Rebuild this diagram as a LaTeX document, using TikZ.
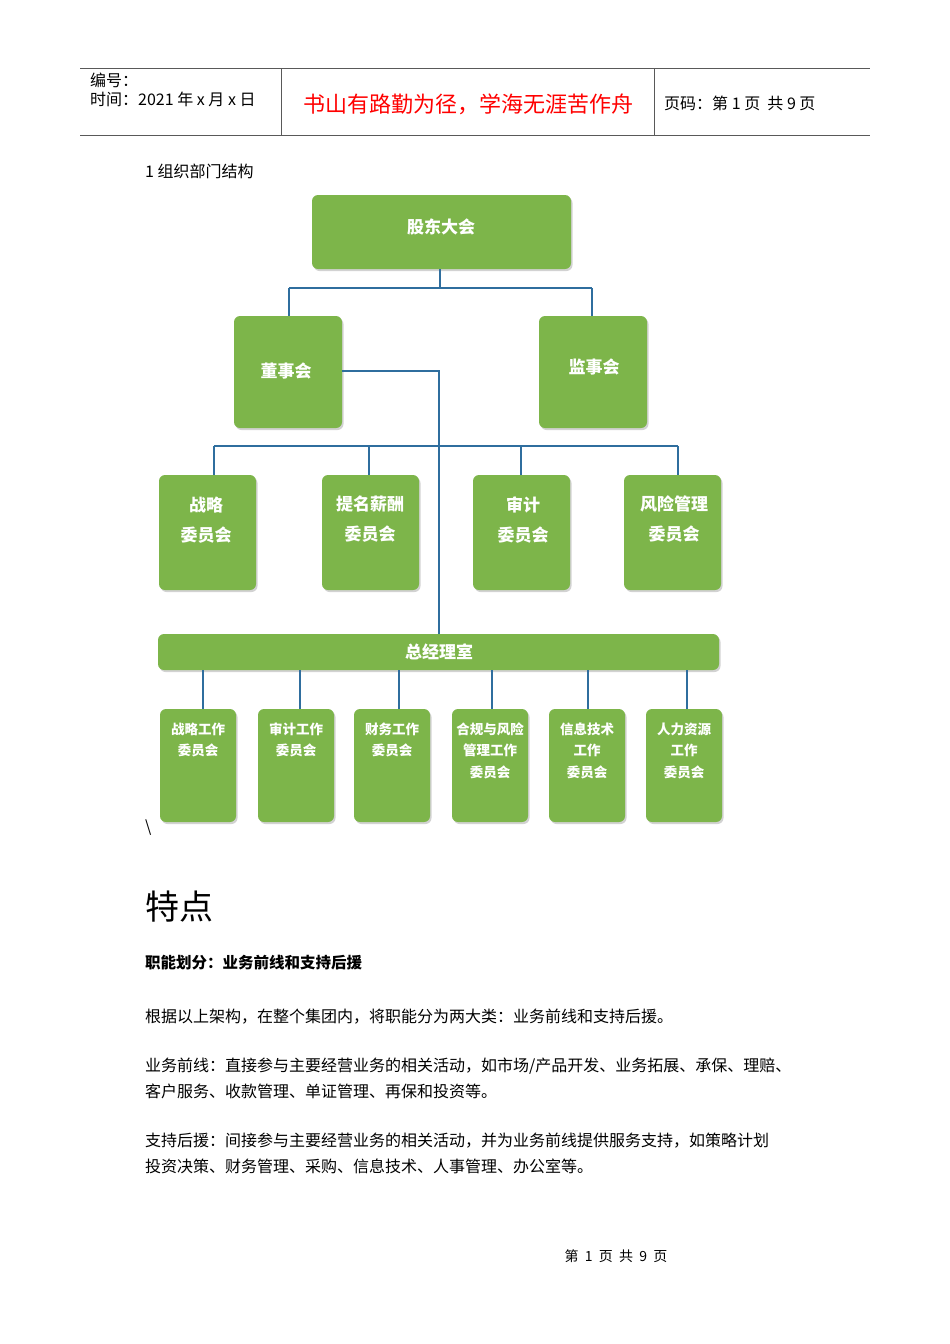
\documentclass[tikz,border=0pt]{standalone}
\usepackage{fontspec}
\setmainfont{Noto Sans CJK SC}
\usetikzlibrary{shadows}
\definecolor{gbox}{HTML}{7DB54A}
\definecolor{lnk}{HTML}{2F6E9E}
\begin{document}
\begin{tikzpicture}[x=1pt,y=-1pt,
  gb/.style={draw=none,fill=gbox,rounded corners=6pt,drop shadow={opacity=0.35,shadow xshift=1.5pt,shadow yshift=-2pt}},
  lk/.style={draw=lnk,line width=1.2pt},
  txt/.style={anchor=west,inner sep=0pt,font=\fontsize{16}{18}\selectfont},
  wt/.style={text=white,font=\bfseries\fontsize{17}{30}\selectfont,align=center},
  ws/.style={text=white,font=\bfseries\fontsize{13.5}{21.5}\selectfont,align=center}]
\useasboundingbox[fill=white] (0,0) rectangle (950,1344);
% header
\draw[gray!70!black,line width=0.8pt] (80,68) -- (870,68) (80,135) -- (870,135) (281,68) -- (281,135) (654,68) -- (654,135);
\node[txt] (h1) at (90,80) {编号：};
\node[txt] (h2) at (90,99) {时间：2021 年 x 月 x 日};
\node[text=red,font=\fontsize{22}{24}\selectfont,inner sep=0pt] (h3) at (468,104) {书山有路勤为径，学海无涯苦作舟};
\node[txt] (h4) at (664,103) {页码：第 1 页\ \ 共 9 页};
\node[txt] (t0) at (145,171) {1 组织部门结构};
% boxes
\path[gb] (312,195) rectangle (571,269); \node[wt] (a) at (441,227) {股东大会};
\path[gb] (234,316) rectangle (342,428); \node[wt] (b1) at (286,371) {董事会};
\path[gb] (539,316) rectangle (647,428); \node[wt] (b2) at (594,367) {监事会};
\path[gb] (159,475) rectangle (256,590); \node[wt] (c1) at (206,520) {战略\\委员会};
\path[gb] (322,475) rectangle (419,590); \node[wt] (c2) at (370,519) {提名薪酬\\委员会};
\path[gb] (473,475) rectangle (570,590); \node[wt] (c3) at (523,520) {审计\\委员会};
\path[gb] (624,475) rectangle (721,590); \node[wt] (c4) at (674,519) {风险管理\\委员会};
\path[gb] (158,634) rectangle (719,670); \node[wt] (m) at (439,652) {总经理室};
\foreach \i/\xa/\t in {1/160/战略工作\\委员会,2/258/审计工作\\委员会,3/354/财务工作\\委员会,4/452/合规与风险\\管理工作\\委员会,5/549/信息技术\\工作\\委员会,6/646/人力资源\\工作\\委员会}{
  \path[gb] (\xa,709) rectangle ++(76,113);
  \node[ws,anchor=north] (d\i) at (\xa+38,719) {\t};
}
% connectors
\coordinate (p1) at (440,288);
\draw[lk] (440,269) -- (p1) (289,288) -- (592,288) (289,288) -- (289,316) (592,288) -- (592,316);
\draw[lk] (342,371) -- (439,371) -- (439,634);
\draw[lk] (214,446) -- (678,446);
\foreach \x in {214,369,521,678} \draw[lk] (\x,446) -- (\x,475);
\foreach \x in {203,300,399,492,588,687} \draw[lk] (\x,670) -- (\x,709);
% text
\node[txt] (bs) at (145,828) {\textbackslash};
\node[txt,font=\fontsize{34}{38}\selectfont] (t1) at (145,907) {特点};
\node[txt,font=\bfseries\fontsize{15.5}{18}\selectfont] (t2) at (145,963) {职能划分：业务前线和支持后援};
\node[txt] (p1t) at (145,1017) {根据以上架构，在整个集团内，将职能分为两大类：业务前线和支持后援。};
\node[txt] (p2a) at (145,1066) {业务前线：直接参与主要经营业务的相关活动，如市场/产品开发、业务拓展、承保、理赔、};
\node[txt] (p2b) at (145,1091) {客户服务、收款管理、单证管理、再保和投资等。};
\node[txt] (p3a) at (145,1141) {支持后援：间接参与主要经营业务的相关活动，并为业务前线提供服务支持，如策略计划};
\node[txt] (p3b) at (145,1166) {投资决策、财务管理、采购、信息技术、人事管理、办公室等。};
\node[font=\fontsize{14}{16}\selectfont] (ft) at (616,1256) {第\ \ 1\ \ 页\ \ 共\ \ 9\ \ 页};
\end{tikzpicture}
\end{document}
